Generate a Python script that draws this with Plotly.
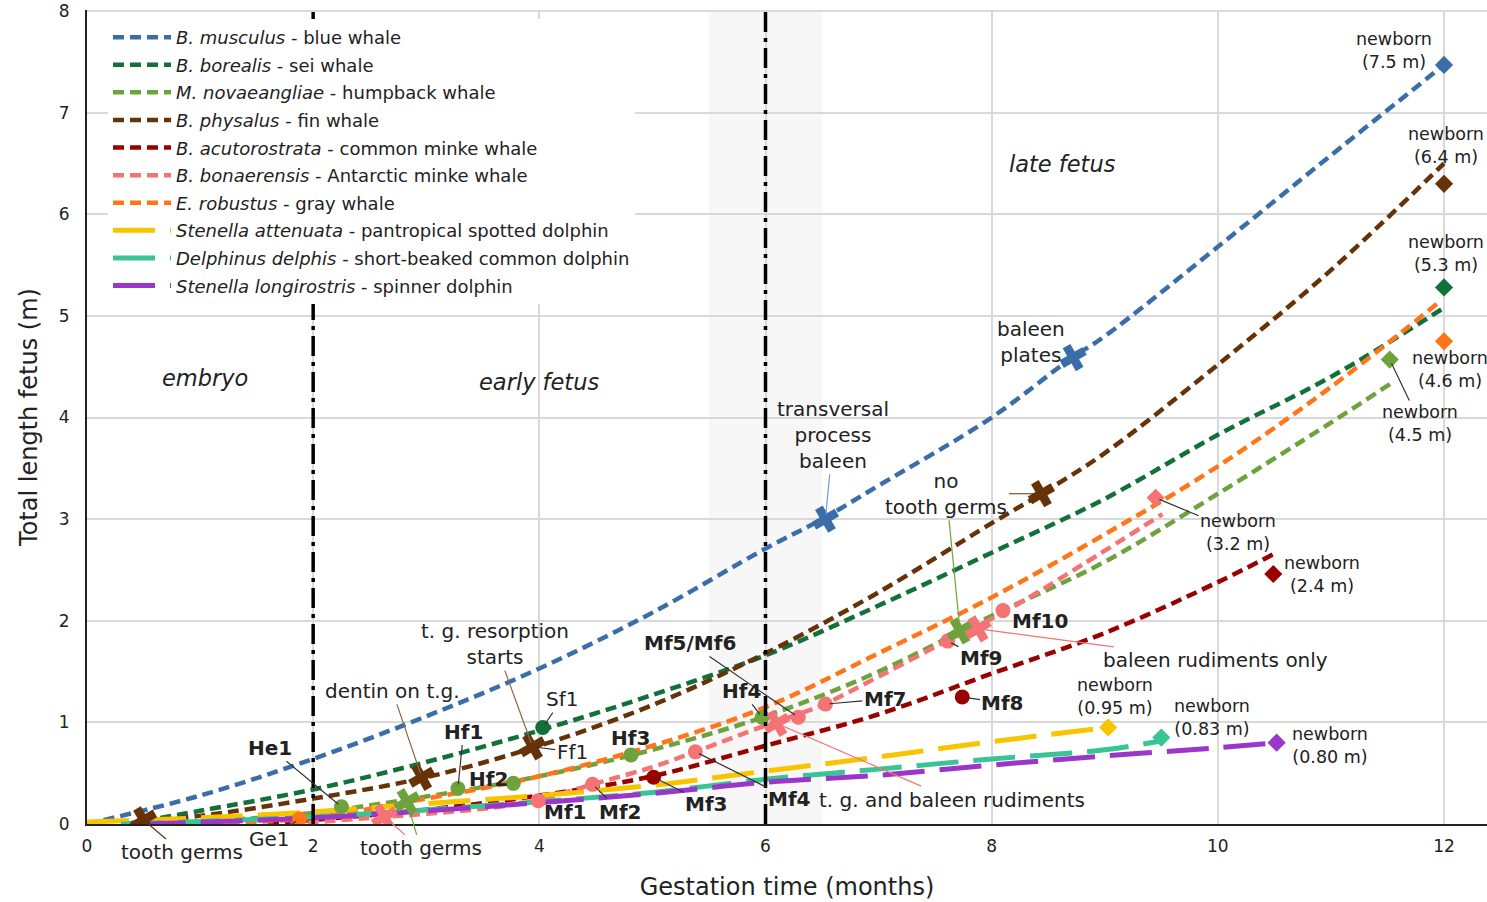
import plotly.graph_objects as go

# ---------------- data (months, total length in m) ----------------
blue_x = [0, 1, 2, 3, 4, 5, 6, 6.5, 7, 8, 8.7, 9, 10, 11, 12]
blue_y = [0, 0.28, 0.64, 1.06, 1.53, 2.08, 2.71, 3.0, 3.33, 4.0, 4.58, 4.8, 5.68, 6.58, 7.47]
sei_x = [0.35, 1, 2, 3, 4, 5, 6, 7, 8, 9, 10, 11, 12]
sei_y = [0, 0.13, 0.34, 0.61, 0.92, 1.27, 1.66, 2.15, 2.67, 3.2, 3.83, 4.4, 5.08]
hump_x = [1, 2, 3, 4, 5, 6, 7, 8, 9, 10, 11, 11.55]
hump_y = [0.02, 0.11, 0.27, 0.47, 0.73, 1.06, 1.5, 2.05, 2.58, 3.25, 3.95, 4.35]
fin_x = [0.5, 1, 2, 3, 4, 5, 6, 7, 8, 8.44, 9, 10, 11, 12]
fin_y = [0.03, 0.08, 0.25, 0.46, 0.77, 1.17, 1.68, 2.28, 2.96, 3.25, 3.65, 4.52, 5.45, 6.5]
minke_x = [1.6, 2, 3, 4, 5, 6, 7, 8, 9, 10, 10.5]
minke_y = [0, 0.04, 0.14, 0.28, 0.47, 0.77, 1.08, 1.48, 1.88, 2.38, 2.66]
antm_x = [1.8, 2.63, 3, 3.65, 4, 4.5, 5, 5.4, 6, 6.5, 7, 7.6, 8.1, 8.8, 9.51]
antm_y = [0, 0.07, 0.1, 0.17, 0.24, 0.4, 0.56, 0.72, 0.97, 1.17, 1.45, 1.8, 2.08, 2.55, 3.05]
gray_x = [0.65, 1.88, 3, 4, 5, 6, 7, 8, 9, 10, 11, 11.94]
gray_y = [0, 0.05, 0.25, 0.47, 0.77, 1.15, 1.68, 2.23, 2.85, 3.52, 4.3, 5.12]
spot_x = [0, 1, 2, 3, 4, 5, 6, 7, 8, 9.03]
spot_y = [0.02, 0.06, 0.12, 0.2, 0.28, 0.38, 0.52, 0.66, 0.81, 0.95]
comm_x = [0.3, 2, 3, 4, 5, 6, 7, 8, 9, 9.5]
comm_y = [0, 0.07, 0.14, 0.22, 0.31, 0.44, 0.54, 0.64, 0.73, 0.82]
spin_x = [0.5, 2, 3, 4, 5, 6, 7, 8, 9, 10, 10.52]
spin_y = [0, 0.06, 0.13, 0.21, 0.3, 0.41, 0.48, 0.58, 0.67, 0.75, 0.80]

species_names = [
    "<i>B. musculus</i> - blue whale",
    "<i>B. borealis</i> - sei whale",
    "<i>M. novaeangliae</i> - humpback whale",
    "<i>B. physalus</i> - fin whale",
    "<i>B. acutorostrata</i> - common minke whale",
    "<i>B. bonaerensis</i> - Antarctic minke whale",
    "<i>E. robustus</i> - gray whale",
    "<i>Stenella attenuata</i> - pantropical spotted dolphin",
    "<i>Delphinus delphis</i> - short-beaked common dolphin",
    "<i>Stenella longirostris</i> - spinner dolphin",
]
curves_x = [blue_x, sei_x, hump_x, fin_x, minke_x, antm_x, gray_x, spot_x, comm_x, spin_x]
curves_y = [blue_y, sei_y, hump_y, fin_y, minke_y, antm_y, gray_y, spot_y, comm_y, spin_y]
colors = ["#3b6ea8", "#12703a", "#6ea23c", "#663308", "#990000",
          "#f47374", "#ff7518", "#f8c400", "#38c495", "#9a36c9"]
dolphin = [False] * 7 + [True] * 3

# newborn lengths (diamonds)
newborn_x = [12, 12, 12, 12, 11.52, 9.45, 10.49, 9.03, 9.5, 10.52]
newborn_y = [7.47, 6.3, 5.28, 4.75, 4.57, 3.21, 2.46, 0.95, 0.85, 0.80]
newborn_sp = [0, 3, 1, 6, 2, 5, 4, 7, 8, 9]

# sampled specimens (dots): label, species index, month, length
dot_labels = ["He1", "Hf1", "Hf2", "Hf3", "Hf4", "Sf1", "Ge1",
              "Mf1", "Mf2", "Mf4", "Mf5/Mf6", "Mf7", "Mf9", "Mf10", "Mf3", "Mf8"]
dot_sp = [2, 2, 2, 2, 2, 1, 6, 5, 5, 5, 5, 5, 5, 5, 4, 4]
dot_x = [2.25, 3.28, 3.77, 4.81, 5.97, 4.03, 1.88, 3.99, 4.47, 5.38, 6.29, 6.53, 7.61, 8.1, 5.01, 7.74]
dot_y = [0.17, 0.35, 0.40, 0.68, 1.05, 0.95, 0.05, 0.23, 0.39, 0.71, 1.05, 1.18, 1.80, 2.10, 0.46, 1.25]

# developmental events (crosses)
ev_sp = [3, 3, 3, 3, 2, 2, 5, 5, 5, 0, 0]
ev_x = [0.5, 2.96, 3.94, 8.44, 2.83, 7.72, 2.63, 6.1, 7.88, 6.53, 8.72]
ev_y = [0.04, 0.46, 0.76, 3.25, 0.22, 1.90, 0.07, 0.99, 1.92, 3.0, 4.59]

FONT = "DejaVu Sans, Liberation Sans, Arial, sans-serif"

fig = go.Figure()

# phase band and boundaries
band = (5.5, 6.5)
phase_bounds = [2, 6]
fig.add_shape(type="rect", xref="x", yref="paper", x0=band[0], x1=band[1], y0=0, y1=1,
              fillcolor="#f7f7f7", line_width=0, layer="below")
for b in phase_bounds:
    fig.add_shape(type="line", xref="x", yref="paper", x0=b, x1=b, y0=0, y1=1,
                  line=dict(color="black", width=3.5, dash="20px,6px,4px,6px"), layer="above")

for i in range(10):
    if dolphin[i]:
        ln = dict(color=colors[i], width=5, dash="42px,15px")
    else:
        ln = dict(color=colors[i], width=4.5, dash="11px,6px")
    fig.add_trace(go.Scatter(x=curves_x[i], y=curves_y[i], mode="lines", name=species_names[i],
                             legendgroup="g%d" % i,
                             line=ln, line_shape="spline", hoverinfo="skip"))

# newborn diamonds
fig.add_trace(go.Scatter(x=newborn_x, y=newborn_y, mode="markers", showlegend=False,
                         marker=dict(symbol="diamond", size=14, color=[colors[s] for s in newborn_sp])))
# dots
fig.add_trace(go.Scatter(x=dot_x, y=dot_y, mode="markers", showlegend=False,
                         marker=dict(symbol="circle", size=15, color=[colors[s] for s in dot_sp])))
# crosses
fig.add_trace(go.Scatter(x=ev_x, y=ev_y, mode="markers", showlegend=False,
                         marker=dict(symbol="x", size=22, angle=15, color=[colors[s] for s in ev_sp])))

anns = []


def label(text, x, y, size=20, italic=False, bold=False, color="#222"):
    t = text
    if bold:
        t = "<b>" + t + "</b>"
    if italic:
        t = "<i>" + t + "</i>"
    anns.append(dict(x=x, y=y, xref="x", yref="y", text=t, showarrow=False,
                     font=dict(family=FONT, size=size, color=color)))


def arrow(text, tx, ty, lx, ly, lcolor="#333", size=20, bold=False, hidden=False):
    t = "<b>" + text + "</b>" if bold else text
    anns.append(dict(x=tx, y=ty, xref="x", yref="y", ax=lx, ay=ly, axref="x", ayref="y",
                     text=t, showarrow=True, arrowhead=0, arrowwidth=1.2, arrowcolor=lcolor,
                     standoff=4,
                     font=dict(family=FONT, size=size,
                               color="rgba(0,0,0,0)" if hidden else "#222")))


label("embryo", 1.04, 4.39, size=22.5, italic=True)
label("early fetus", 4.0, 4.35, size=22.5, italic=True)
label("late fetus", 8.63, 6.49, size=22.5, italic=True)

arrow("tooth germs", 0.5, 0.04, 0.84, -0.28, lcolor="#663308")
arrow("Ge1", 1.88, 0.05, 1.61, -0.15)
arrow("He1", 2.25, 0.17, 1.62, 0.75, bold=True)
arrow("tooth germs", 2.63, 0.07, 2.95, -0.24, lcolor="#f47374")
arrow("tooth germs", 2.83, 0.22, 2.95, -0.24, lcolor="#6ea23c", hidden=True)
arrow("dentin on t.g.", 2.96, 0.46, 2.70, 1.31, lcolor="#8a6a48")
arrow("Hf1", 3.28, 0.35, 3.33, 0.91, bold=True)
label("Hf2", 3.55, 0.44, bold=True)
arrow("t. g. resorption<br>starts", 3.94, 0.76, 3.61, 1.77, lcolor="#8a6a48")
arrow("Sf1", 4.03, 0.95, 4.20, 1.23)
arrow("Ff1", 3.94, 0.76, 4.29, 0.71)
label("Hf3", 4.81, 0.85, bold=True)
label("Mf1", 4.23, 0.12, bold=True)
arrow("Mf2", 4.47, 0.39, 4.72, 0.12, bold=True)
arrow("Mf3", 5.01, 0.46, 5.48, 0.20, bold=True)
arrow("Mf4", 5.38, 0.71, 6.21, 0.25, bold=True)
arrow("Mf5/Mf6", 6.29, 1.05, 5.33, 1.78, bold=True)
arrow("Hf4", 5.97, 1.05, 5.79, 1.31, bold=True)
arrow("t. g. and baleen rudiments", 6.1, 0.99, 7.65, 0.24, lcolor="#f47374")
arrow("Mf7", 6.53, 1.18, 7.06, 1.23, bold=True)
arrow("transversal<br>process<br>baleen", 6.53, 3.0, 6.60, 3.83, lcolor="#6b9bd0")
label("baleen<br>plates", 8.35, 4.74)
arrow("no<br>tooth germs", 8.44, 3.25, 7.60, 3.25, lcolor="#663308")
arrow("no<br>tooth germs", 7.72, 1.90, 7.60, 3.25, lcolor="#6ea23c", hidden=True)
arrow("Mf9", 7.61, 1.80, 7.91, 1.63, bold=True)
label("Mf10", 8.43, 2.0, bold=True)
arrow("Mf8", 7.74, 1.25, 8.10, 1.19, bold=True)
arrow("baleen rudiments only", 7.88, 1.92, 9.98, 1.61, lcolor="#f47374")

NB = 17.5
label("newborn<br>(7.5 m)", 11.56, 7.61, size=NB)
label("newborn<br>(6.4 m)", 12.02, 6.68, size=NB)
label("newborn<br>(5.3 m)", 12.02, 5.61, size=NB)
label("newborn<br>(4.6 m)", 12.05, 4.47, size=NB)
arrow("newborn<br>(4.5 m)", 11.52, 4.57, 11.79, 3.94, size=NB)
arrow("newborn<br>(3.2 m)", 9.45, 3.21, 10.18, 2.87, size=NB)
label("newborn<br>(2.4 m)", 10.92, 2.46, size=NB)
label("newborn<br>(0.95 m)", 9.09, 1.25, size=NB)
label("newborn<br>(0.83 m)", 9.95, 1.05, size=NB)
label("newborn<br>(0.80 m)", 10.99, 0.77, size=NB)

fig.update_layout(
    width=1487, height=902,
    margin=dict(l=87, r=0, t=10, b=78),
    paper_bgcolor="white", plot_bgcolor="white",
    font=dict(family=FONT, color="#222"),
    annotations=anns,
    showlegend=True,
    legend=dict(x=0.015, y=0.989, xanchor="left", yanchor="top", bgcolor="white",
                font=dict(family=FONT, size=18, color="#222"), itemwidth=58,
                tracegroupgap=1.2),
    xaxis=dict(range=[0, 12.38], tick0=0, dtick=2, showgrid=True, gridcolor="#d9d9d9",
               gridwidth=1.5, zeroline=False, showline=True, linecolor="#222", linewidth=2,
               tickfont=dict(size=17, color="#222"), ticklabelstandoff=6,
               title=dict(text="Gestation time (months)", font=dict(size=24, color="#222"),
                          standoff=23)),
    yaxis=dict(range=[0, 8.01], tickvals=[0, 1, 2, 3, 4, 5, 6, 7, 8], showgrid=True,
               gridcolor="#d9d9d9", gridwidth=1.5,
               zeroline=False, showline=True, linecolor="#222", linewidth=2,
               tickfont=dict(size=17, color="#222"), ticklabelstandoff=12,
               title=dict(text="Total length fetus (m)", font=dict(size=24, color="#222"),
                          standoff=14)),
)

fig.write_html("out.html", config={"displayModeBar": False},
               post_script="document.body.style.margin='0';")
